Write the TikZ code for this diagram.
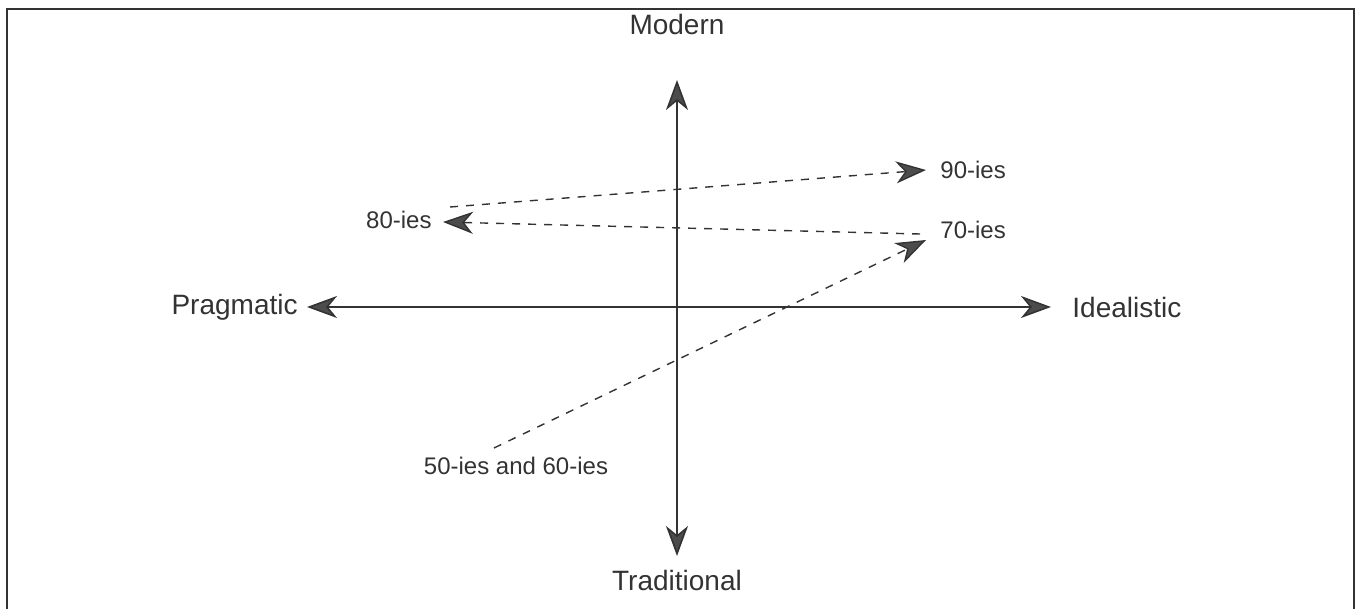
\documentclass[tikz,border=0pt]{standalone}
\usepackage{fontspec}
\setmainfont{Liberation Sans}
\usetikzlibrary{arrows.meta}
\definecolor{ink}{gray}{0.2}
\definecolor{headfill}{gray}{0.3}
\begin{document}
\begin{tikzpicture}[x=0.5pt,y=-0.5pt,
  axis/.style={draw=ink,line width=0.8pt,{Stealth[length=15pt,width=11pt,inset=4.5pt,fill=headfill]}-{Stealth[length=15pt,width=11pt,inset=4.5pt,fill=headfill]}},
  trend/.style={draw=ink,line width=0.7pt,dash pattern=on 4pt off 4pt,-{Stealth[length=15pt,width=11pt,inset=4.5pt,fill=headfill]}},
  biglabel/.style={font=\fontsize{14}{16}\selectfont,text=ink,inner sep=0pt},
  smalllabel/.style={font=\fontsize{12}{14}\selectfont,text=ink,inner sep=0pt}]
\useasboundingbox (0,0) rectangle (1356,609);
\draw[ink,line width=1pt] (7,609) -- (7,9) -- (1354,9) -- (1354,609);
% axes
\coordinate (top) at (677,80);
\coordinate (bot) at (677,556);
\coordinate (lft) at (307,307);
\coordinate (rgt) at (1051,307);
\draw[axis] (bot) -- (top);
\draw[axis] (lft) -- (rgt);
\node[biglabel,anchor=south] (modern) at (677,35) {Modern};
\node[biglabel,anchor=north] (trad) at (677,570) {Traditional};
\node[biglabel,anchor=east] (prag) at (298,307) {Pragmatic};
\node[biglabel,anchor=west] (ideal) at (1072,307) {Idealistic};
% decades
\node[smalllabel,anchor=west] (n90) at (940,170) {90-ies};
\node[smalllabel,anchor=east] (n80) at (432,220) {80-ies};
\node[smalllabel,anchor=west] (n70) at (940,230) {70-ies};
\node[smalllabel] (n50) at (516,466) {50-ies and 60-ies};
\coordinate (s90) at (450,207);
\coordinate (e90) at (926,170);
\coordinate (s80) at (920,234);
\coordinate (e80) at (443,222);
\coordinate (s70) at (494,448);
\coordinate (e70) at (926,240);
\draw[trend] (s90) -- (e90);
\draw[trend] (s80) -- (e80);
\draw[trend] (s70) -- (e70);
\end{tikzpicture}
\end{document}
